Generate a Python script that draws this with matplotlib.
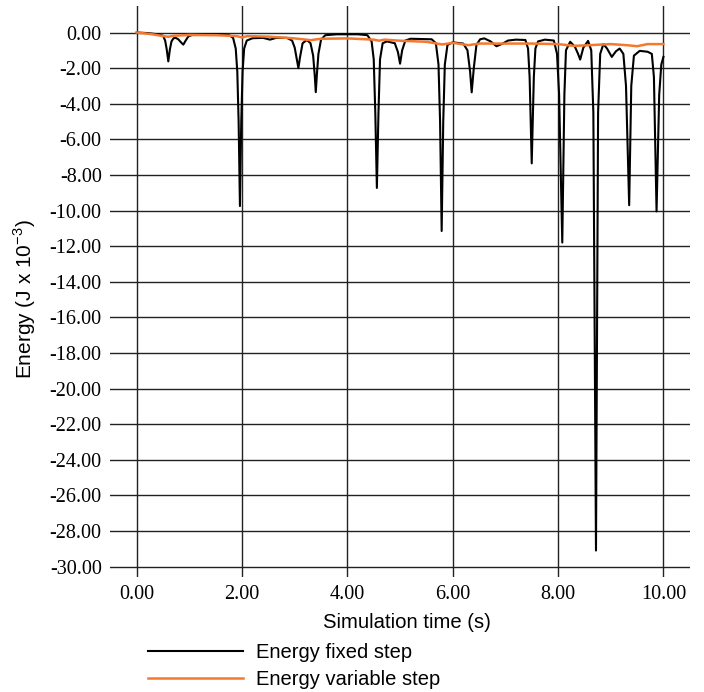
import matplotlib
matplotlib.use("Agg")
import matplotlib.pyplot as plt

# energy error of the two integrators over the run (J x 10^-3)
t_fixed = [0.00, 0.20, 0.40, 0.50, 0.54, 0.57, 0.60, 0.63, 0.66, 0.70,
           0.74, 0.79, 0.84, 0.885, 0.93, 0.98, 1.05, 1.30, 1.60, 1.75,
           1.83, 1.88, 1.91, 1.935, 1.96, 1.985, 2.01, 2.04, 2.09, 2.20,
           2.40, 2.53, 2.65, 2.85, 2.95, 3.00, 3.04, 3.07, 3.10, 3.15,
           3.23, 3.30, 3.35, 3.38, 3.40, 3.42, 3.45, 3.50, 3.58, 3.80,
           4.20, 4.38, 4.46, 4.50, 4.53, 4.56, 4.59, 4.62, 4.67, 4.75,
           4.90, 4.96, 5.00, 5.04, 5.10, 5.20, 5.60, 5.68, 5.73, 5.76,
           5.79, 5.82, 5.85, 5.90, 6.00, 6.20, 6.28, 6.33, 6.36, 6.40,
           6.45, 6.52, 6.60, 6.72, 6.83, 6.95, 7.05, 7.20, 7.38, 7.43,
           7.46, 7.50, 7.54, 7.57, 7.62, 7.75, 7.92, 7.98, 8.02, 8.08,
           8.12, 8.15, 8.23, 8.32, 8.38, 8.42, 8.48, 8.57, 8.63, 8.67,
           8.72, 8.76, 8.80, 8.86, 8.93, 9.02, 9.10, 9.17, 9.24, 9.29,
           9.35, 9.39, 9.44, 9.55, 9.70, 9.78, 9.82, 9.87, 9.92, 9.96,
           10.00]
e_fixed = [0.00, -0.03, -0.10, -0.18, -0.45, -0.95, -1.62, -0.95, -0.50, -0.32,
           -0.30, -0.38, -0.55, -0.68, -0.45, -0.22, -0.14, -0.10, -0.10, -0.14,
           -0.30, -0.90, -2.20, -5.00, -9.75, -5.00, -2.20, -0.90, -0.45, -0.32,
           -0.30, -0.40, -0.30, -0.30, -0.45, -0.85, -1.50, -2.00, -1.40, -0.60,
           -0.42, -0.60, -1.30, -2.40, -3.35, -2.40, -1.20, -0.40, -0.15, -0.10,
           -0.10, -0.15, -0.50, -1.50, -4.50, -8.73, -4.50, -1.50, -0.60, -0.50,
           -0.60, -1.10, -1.75, -1.00, -0.45, -0.35, -0.38, -0.60, -1.80, -5.00,
           -11.15, -5.00, -1.80, -0.70, -0.55, -0.62, -1.00, -2.20, -3.36, -2.00,
           -0.70, -0.38, -0.33, -0.50, -0.77, -0.62, -0.45, -0.40, -0.42, -0.90,
           -2.50, -7.35, -2.50, -0.90, -0.50, -0.40, -0.45, -1.20, -3.50, -11.80,
           -3.50, -1.00, -0.52, -0.80, -1.20, -1.52, -0.85, -0.47, -1.00, -4.50,
           -29.10, -4.50, -1.20, -0.65, -0.90, -1.37, -1.05, -0.90, -1.20, -3.00,
           -9.70, -3.00, -1.30, -1.03, -1.08, -1.20, -2.50, -10.05, -3.50, -1.80,
           -1.37]

t_var = [0.0, 0.3, 0.5, 0.6, 0.7, 1.0, 1.5, 1.9, 2.0, 2.1, 2.5, 3.0, 3.3, 3.5,
         4.0, 4.5, 4.6, 4.7, 5.0, 5.5, 5.8, 6.0, 6.3, 6.5, 7.0, 7.5, 8.0, 8.3,
         8.6, 9.0, 9.3, 9.5, 9.7, 10.0]
e_var = [0.00, -0.10, -0.20, -0.24, -0.18, -0.14, -0.15, -0.20, -0.28, -0.20,
         -0.23, -0.33, -0.43, -0.35, -0.33, -0.40, -0.46, -0.40, -0.46, -0.52,
         -0.67, -0.58, -0.71, -0.62, -0.62, -0.62, -0.65, -0.75, -0.71, -0.65,
         -0.71, -0.77, -0.65, -0.65]

x_ticks = [0, 2, 4, 6, 8, 10]
y_ticks = list(range(0, -31, -2))

W, H = 704, 692
fig = plt.figure(figsize=(W / 100, H / 100), dpi=100)
ax = fig.add_axes([110 / W, 1 - 576.7 / H, 580 / W, 570.7 / H])

ax.plot(t_fixed, e_fixed, color="black", lw=1.5, label="Energy fixed step")
ax.plot(t_var, e_var, color="#f4782e", lw=1.8, label="Energy variable step")

ax.set_xlim(-0.507, 10.505)
ax.set_ylim(-30.57, 1.49)
ax.set_xticks(x_ticks)
ax.set_yticks(y_ticks)
ax.set_xticklabels([f"{v:.2f}" for v in x_ticks], family="Liberation Serif", fontsize=14.5)
ax.set_yticklabels([f"{v:.2f}" for v in y_ticks], family="Liberation Serif", fontsize=14.5)
ax.tick_params(length=0, pad=6)
ax.grid(True, color="#222222", lw=1.0)
ax.set_axisbelow(True)
for s in ax.spines.values():
    s.set_visible(False)

fig.text(406.7 / W, 1 - 623 / H, "Simulation time (s)", family="Liberation Sans",
         fontsize=14.6, ha="center", va="center")
fig.text(25 / W, 1 - 299.5 / H, r"Energy (J x 10$^{\mathregular{-3}}$)", family="Liberation Sans",
         fontsize=15, ha="center", va="center", rotation=90)

fig.legend(loc="upper left", bbox_to_anchor=(144 / W, 1 - 639 / H), frameon=False,
           prop={"family": "Liberation Sans", "size": 14.5}, handlelength=4.7,
           handletextpad=0.65, labelspacing=0.38, borderaxespad=0, borderpad=0.2)

fig.savefig("out.png", dpi=100)
